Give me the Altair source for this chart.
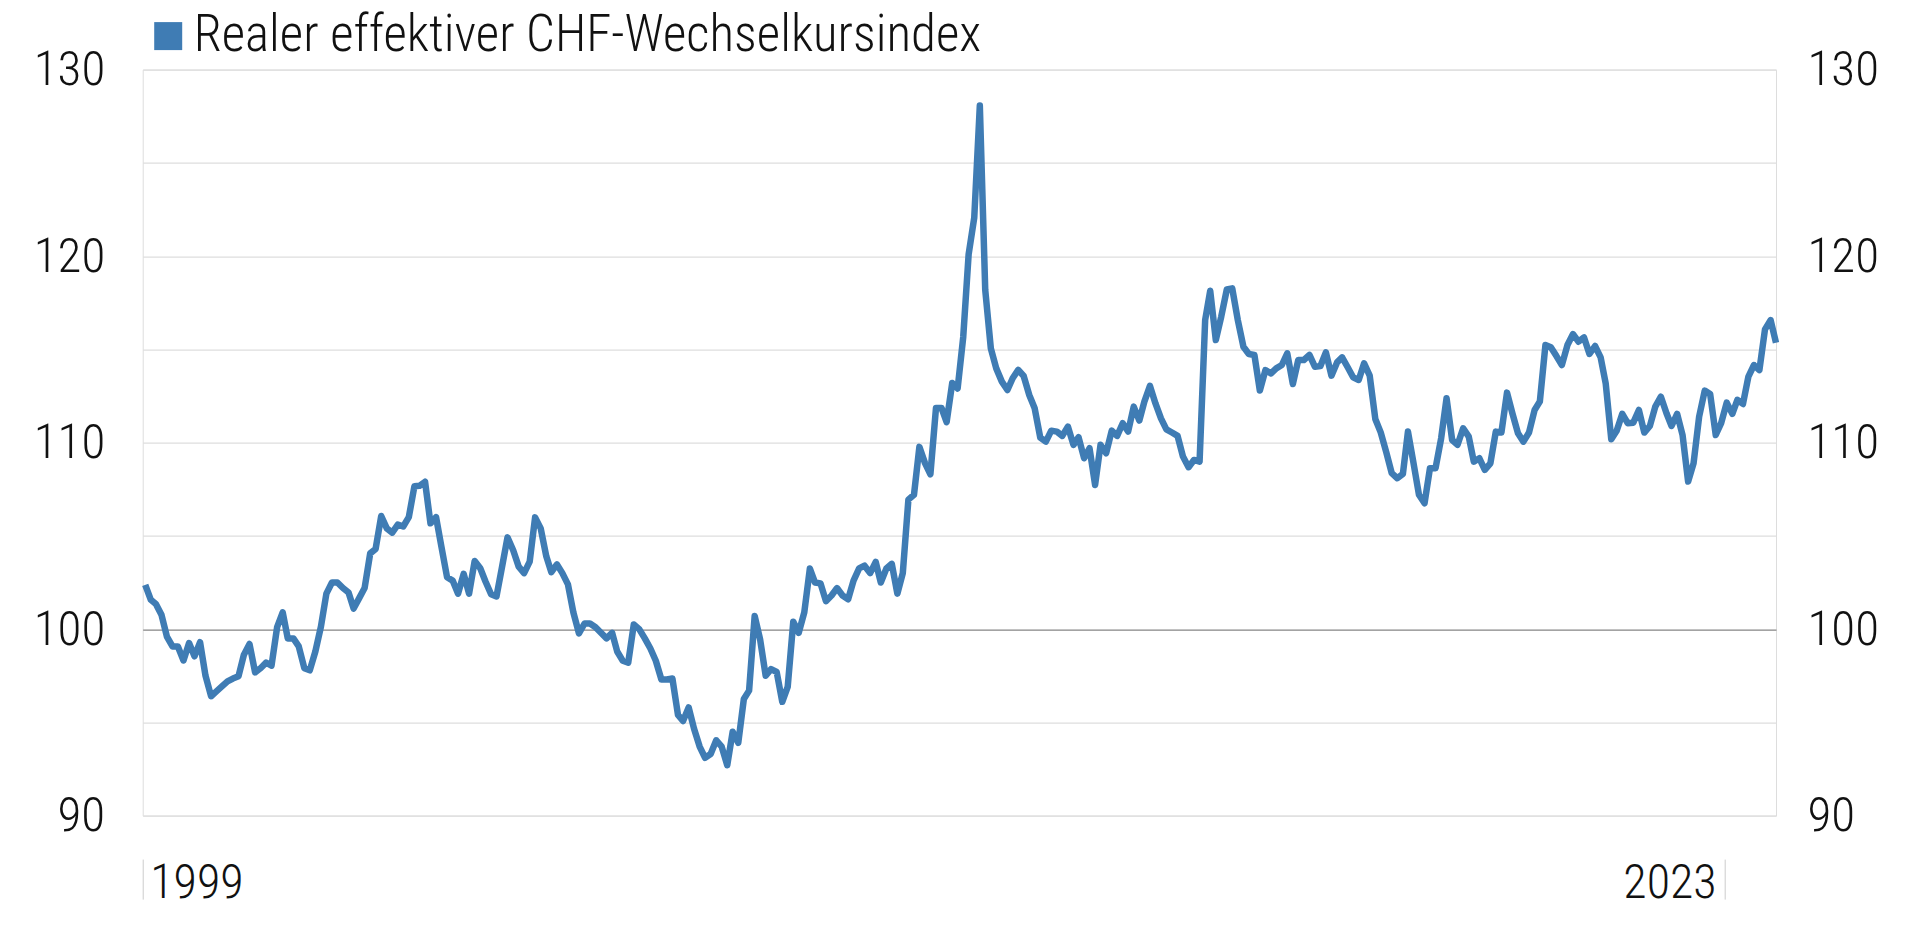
import altair as alt
import pandas as pd

SERIES = "Realer effektiver CHF-Wechselkursindex"
COLOR = "#3f7cb4"
FONT = "'Noto Sans Condensed Light', 'Noto Sans Condensed', 'Roboto Condensed Light', 'Roboto Condensed', 'DejaVu Sans Condensed', sans-serif"

# Monthly values, January 1999 - October 2023
v1999 = [102.37, 101.57, 101.35, 100.77, 99.6, 99.07, 99.07, 98.32, 99.25, 98.54, 99.3, 97.5]
v2000 = [96.4, 96.67, 96.93, 97.2, 97.35, 97.47, 98.63, 99.2, 97.68, 97.9, 98.2, 98.04]
v2001 = [100.1, 100.9, 99.5, 99.5, 99.07, 97.9, 97.79, 98.8, 100.14, 101.9, 102.5, 102.5]
v2002 = [102.2, 101.96, 101.1, 101.66, 102.2, 104.06, 104.3, 106.06, 105.4, 105.17, 105.6, 105.5]
v2003 = [106.0, 107.66, 107.68, 107.9, 105.67, 106.0, 104.4, 102.78, 102.6, 101.9, 102.96, 101.9]
v2004 = [103.65, 103.26, 102.55, 101.87, 101.75, 103.35, 104.92, 104.24, 103.35, 103.0, 103.62, 105.99]
v2005 = [105.4, 103.9, 103.05, 103.47, 103.0, 102.4, 100.9, 99.77, 100.3, 100.3, 100.1, 99.8]
v2006 = [99.5, 99.8, 98.8, 98.3, 98.2, 100.25, 100.0, 99.5, 98.96, 98.3, 97.3, 97.3]
v2007 = [97.35, 95.4, 95.07, 95.8, 94.66, 93.7, 93.1, 93.3, 94.04, 93.7, 92.7, 94.5]
v2008 = [93.9, 96.25, 96.7, 100.7, 99.45, 97.5, 97.85, 97.7, 96.1, 96.9, 100.4, 99.8]
v2009 = [100.9, 103.25, 102.5, 102.45, 101.5, 101.8, 102.2, 101.8, 101.6, 102.6, 103.25, 103.4]
v2010 = [103.0, 103.6, 102.5, 103.25, 103.5, 101.9, 103.0, 106.94, 107.2, 109.77, 108.9, 108.3]
v2011 = [111.85, 111.85, 111.1, 113.2, 112.9, 115.66, 120.1, 122.05, 128.07, 118.18, 115.05, 113.98]
v2012 = [113.27, 112.82, 113.45, 113.9, 113.57, 112.55, 111.84, 110.27, 110.05, 110.64, 110.59, 110.36]
v2013 = [110.86, 109.88, 110.29, 109.16, 109.7, 107.73, 109.88, 109.43, 110.64, 110.36, 111.04, 110.59]
v2014 = [111.93, 111.18, 112.2, 113.04, 112.11, 111.3, 110.71, 110.54, 110.36, 109.25, 108.68, 109.07]
v2015 = [108.98, 116.57, 118.14, 115.5, 116.75, 118.21, 118.27, 116.57, 115.14, 114.75, 114.7, 112.79]
v2016 = [113.89, 113.71, 113.98, 114.16, 114.79, 113.14, 114.43, 114.43, 114.7, 114.07, 114.11, 114.84]
v2017 = [113.59, 114.3, 114.57, 114.04, 113.5, 113.36, 114.25, 113.59, 111.27, 110.55, 109.48, 108.36]
v2018 = [108.09, 108.32, 110.59, 108.89, 107.2, 106.75, 108.63, 108.63, 110.23, 112.38, 110.14, 109.88]
v2019 = [110.77, 110.32, 108.98, 109.16, 108.54, 108.89, 110.59, 110.54, 112.68, 111.57, 110.5, 110.05]
v2020 = [110.54, 111.75, 112.2, 115.23, 115.11, 114.64, 114.16, 115.23, 115.82, 115.41, 115.64, 114.75]
v2021 = [115.18, 114.57, 113.18, 110.18, 110.63, 111.54, 111.04, 111.07, 111.75, 110.54, 110.89, 111.93]
v2022 = [112.46, 111.57, 110.89, 111.54, 110.41, 107.91, 108.89, 111.39, 112.79, 112.61, 110.41, 111.04]
v2023 = [112.14, 111.54, 112.29, 112.07, 113.54, 114.16, 113.89, 116.07, 116.57, 115.36]

years = [v1999, v2000, v2001, v2002, v2003, v2004, v2005, v2006, v2007, v2008,
         v2009, v2010, v2011, v2012, v2013, v2014, v2015, v2016, v2017, v2018,
         v2019, v2020, v2021, v2022, v2023]
values = [v for y in years for v in y]

Y_GRID = [90, 95, 100, 105, 110, 115, 120, 125, 130]
Y_LABELS = [90, 100, 110, 120, 130]
X_TICK_DATES = ["1999-01-01", "2023-01-01"]


def ms(s):
    return int(pd.Timestamp(s, tz="UTC").timestamp() * 1000)


dates = pd.date_range("1999-01-01", periods=len(values), freq="MS") + pd.Timedelta(days=14)
df = pd.DataFrame({
    "t": [int(d.tz_localize("UTC").timestamp() * 1000) for d in dates],
    "v": values,
    "s": SERIES,
})

x_domain = [ms("1999-01-01"), int(df["t"].iloc[-1])]
x_ticks = [ms(d) for d in X_TICK_DATES]
split = (x_ticks[0] + x_ticks[1]) / 2

x_axis = alt.Axis(
    values=x_ticks,
    labelExpr="utcFormat(datum.value, '%Y')",
    domain=False,
    grid=False,
    ticks=True,
    tickSize=40,
    tickColor="#cccccc",
    tickWidth=1,
    offset=43.5,
    labelPadding=-2,
    labelBaseline="alphabetic",
    labelAlign={"condition": {"test": f"datum.value < {split}", "value": "left"}, "value": "right"},
    labelOffset={"condition": {"test": f"datum.value < {split}", "value": 7}, "value": -8},
    labelFlush=False,
    labelOverlap=False,
    labelBound=False,
    labelFont=FONT,
    labelFontSize=48,
    labelColor="#111111",
    title=None,
)

base = alt.Chart(df).encode(
    x=alt.X("t:T", scale=alt.Scale(domain=x_domain), axis=x_axis)
)

y_scale = alt.Scale(domain=[90, 130], nice=False, zero=False)

left = base.mark_line(opacity=0).encode(
    y=alt.Y(
        "v:Q",
        scale=y_scale,
        axis=alt.Axis(
            orient="left",
            values=Y_GRID,
            labelExpr="datum.value % 10 == 0 ? datum.label : ''",
            grid=True,
            gridColor={"condition": {"test": "datum.value == 100", "value": "#858585"}, "value": "#dedede"},
            gridWidth=1.2,
            ticks=False,
            domain=False,
            labelPadding=38,
            labelFont=FONT,
            labelFontSize=49,
            labelColor="#111111",
            title=None,
        ),
    )
)

right = base.mark_line(strokeWidth=6.5, strokeJoin="round").encode(
    y=alt.Y(
        "v:Q",
        scale=y_scale,
        axis=alt.Axis(
            orient="right",
            values=Y_LABELS,
            grid=False,
            ticks=False,
            domain=False,
            labelPadding=31,
            labelAlign="left",
            labelFont=FONT,
            labelFontSize=49,
            labelColor="#111111",
            title=None,
        ),
    ),
    color=alt.Color(
        "s:N",
        scale=alt.Scale(range=[COLOR]),
        legend=alt.Legend(
            orient="none",
            legendX=0,
            legendY=-59,
            title=None,
            symbolType="square",
            symbolSize=784,
            symbolFillColor=COLOR,
            symbolStrokeColor=COLOR,
            symbolStrokeWidth=0,
            labelFont=FONT,
            labelFontSize=51,
            labelColor="#111111",
            labelOffset=0,
            labelLimit=3000,
            padding=0,
        ),
    ),
)

chart = alt.layer(left, right).resolve_scale(y="independent").properties(
    width=1633.3,
    height=746,
    autosize=alt.AutoSizeParams(type="none"),
    padding={"left": 134.7, "top": 61.6, "right": 120, "bottom": 104},
).configure_view(stroke=None).configure(background="white")

chart.save("out.html", embed_options={"renderer": "svg", "actions": False})
